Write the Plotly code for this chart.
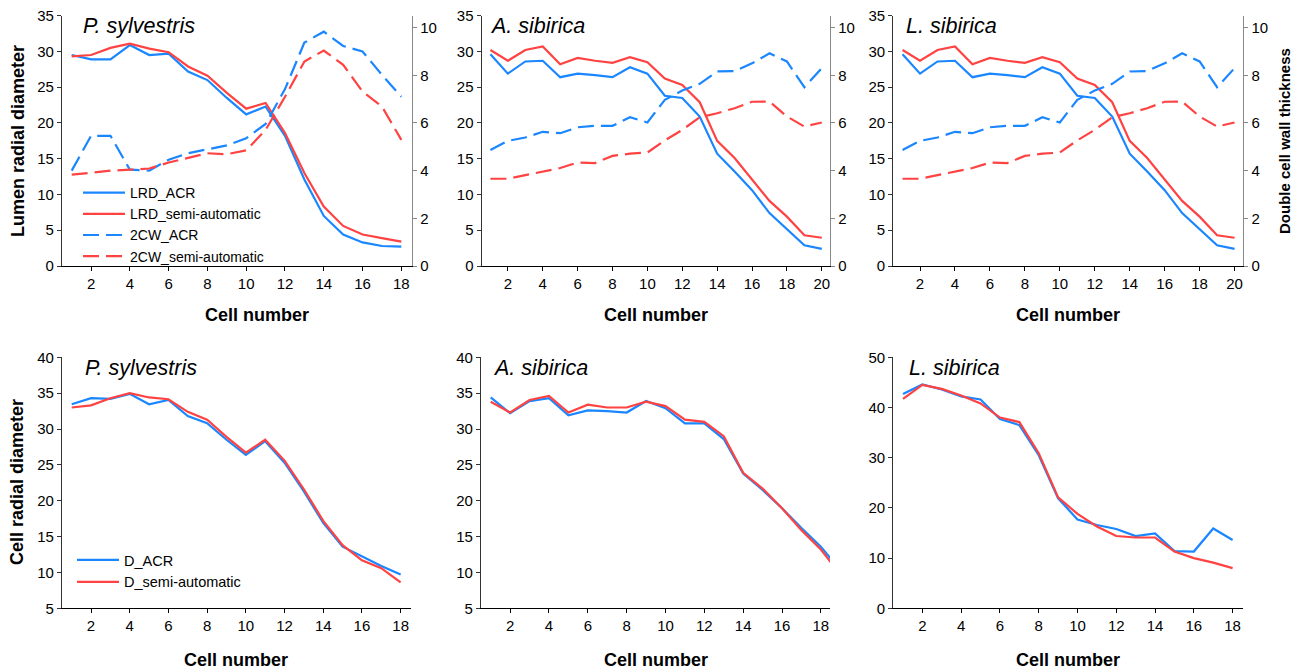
import plotly.graph_objects as go

# ---------------- data ----------------
cells18 = list(range(1, 19))
cells19 = list(range(1, 20))
cells20 = list(range(1, 21))

# P. sylvestris (top): lumen radial diameter & double cell wall thickness
ps_lrd_acr = [29.5, 28.9, 28.9, 30.9, 29.5, 29.7, 27.2, 26.0, 23.5, 21.2, 22.3, 18.2, 12.1, 7.0, 4.4, 3.3, 2.8, 2.7]
ps_lrd_semi = [29.3, 29.5, 30.5, 31.1, 30.4, 29.9, 27.9, 26.6, 24.2, 22.0, 22.8, 18.6, 13.0, 8.3, 5.6, 4.4, 3.9, 3.4]
ps_2cw_acr = [4.0, 5.46, 5.46, 4.04, 4.0, 4.46, 4.73, 4.9, 5.06, 5.36, 5.96, 7.42, 9.37, 9.83, 9.23, 9.0, 8.02, 7.1]
ps_2cw_semi = [3.83, 3.92, 4.0, 4.04, 4.09, 4.34, 4.53, 4.73, 4.69, 4.85, 5.71, 7.1, 8.58, 9.04, 8.44, 7.32, 6.69, 5.29]

# A. sibirica (top)
as_lrd_acr = [29.6, 26.9, 28.6, 28.7, 26.4, 26.9, 26.7, 26.4, 27.8, 26.9, 23.8, 23.5, 20.9, 15.7, 13.2, 10.6, 7.4, 5.1, 2.9, 2.4]
as_lrd_semi = [30.2, 28.7, 30.2, 30.7, 28.2, 29.1, 28.7, 28.4, 29.2, 28.5, 26.2, 25.3, 22.9, 17.5, 15.1, 12.1, 9.1, 6.9, 4.3, 3.95]
as_2cw_acr = [4.87, 5.25, 5.39, 5.63, 5.57, 5.82, 5.88, 5.88, 6.24, 6.02, 6.97, 7.36, 7.64, 8.16, 8.18, 8.5, 8.92, 8.58, 7.5, 8.3]
as_2cw_semi = [3.66, 3.66, 3.81, 3.97, 4.11, 4.34, 4.32, 4.62, 4.71, 4.76, 5.27, 5.71, 6.24, 6.41, 6.62, 6.89, 6.9, 6.27, 5.85, 6.02]

# L. sibirica (top)
ls_lrd_acr = [29.6, 26.9, 28.6, 28.7, 26.4, 26.9, 26.7, 26.4, 27.8, 26.9, 23.8, 23.5, 20.9, 15.7, 13.2, 10.6, 7.4, 5.1, 2.9, 2.4]
ls_lrd_semi = [30.2, 28.7, 30.2, 30.7, 28.2, 29.1, 28.7, 28.4, 29.2, 28.5, 26.2, 25.3, 22.9, 17.5, 15.1, 12.1, 9.1, 6.9, 4.3, 3.95]
ls_2cw_acr = [4.87, 5.25, 5.39, 5.63, 5.57, 5.82, 5.88, 5.88, 6.24, 6.02, 6.97, 7.36, 7.64, 8.16, 8.18, 8.5, 8.92, 8.58, 7.5, 8.3]
ls_2cw_semi = [3.66, 3.66, 3.81, 3.97, 4.11, 4.34, 4.32, 4.62, 4.71, 4.76, 5.27, 5.71, 6.24, 6.41, 6.62, 6.89, 6.9, 6.27, 5.85, 6.02]

# Cell radial diameter (bottom)
ps_d_acr = [33.45, 34.3, 34.2, 34.9, 33.45, 34.06, 31.8, 30.8, 28.5, 26.4, 28.3, 25.3, 21.3, 16.9, 13.6, 12.2, 10.9, 9.7]
ps_d_semi = [33.0, 33.3, 34.3, 35.0, 34.4, 34.15, 32.4, 31.3, 28.9, 26.7, 28.5, 25.6, 21.6, 17.2, 13.8, 11.7, 10.6, 8.6]
as_d_acr = [34.4, 32.2, 33.9, 34.3, 31.9, 32.6, 32.5, 32.3, 33.9, 32.9, 30.8, 30.8, 28.6, 23.8, 21.5, 18.95, 16.2, 13.6, 10.3]
as_d_semi = [33.8, 32.3, 34.05, 34.6, 32.3, 33.4, 33.0, 33.0, 33.8, 33.2, 31.3, 31.0, 29.0, 23.9, 21.7, 18.95, 15.9, 13.2, 9.7]
ls_d_acr = [42.7, 44.6, 43.6, 42.2, 41.6, 37.7, 36.5, 30.5, 21.9, 17.7, 16.6, 15.8, 14.4, 14.9, 11.4, 11.3, 15.9, 13.6]
ls_d_semi = [41.7, 44.5, 43.7, 42.4, 40.8, 38.0, 37.1, 30.9, 22.1, 18.8, 16.3, 14.4, 14.1, 14.1, 11.3, 10.0, 9.1, 8.0]

species = ["P. sylvestris", "A. sibirica", "L. sibirica"]
x_tick_vals = [2, 4, 6, 8, 10, 12, 14, 16, 18, 20]

# ---------------- style ----------------
BLUE = "#1a86ff"
RED = "#ff4242"
FONT = "Liberation Sans, Arial, sans-serif"
DASH = "16px,7px"
W, H = 1300, 672

fig = go.Figure()


def add(x, y, color, dash, xa, ya, name, legend, show):
    fig.add_trace(go.Scatter(
        x=x, y=y, mode="lines", name=name,
        line=dict(color=color, width=2.2, dash=dash),
        xaxis=xa, yaxis=ya, showlegend=show, legend=legend,
    ))


# top row
top = [
    (cells18, ps_lrd_acr, ps_lrd_semi, ps_2cw_acr, ps_2cw_semi),
    (cells20, as_lrd_acr, as_lrd_semi, as_2cw_acr, as_2cw_semi),
    (cells20, ls_lrd_acr, ls_lrd_semi, ls_2cw_acr, ls_2cw_semi),
]
for i, (cx, la, ls, ca, cs) in enumerate(top):
    xa = "x" if i == 0 else f"x{i+1}"
    ya = "y" if i == 0 else f"y{i+1}"
    yr = f"y{i+7}"
    show = i == 0
    add(cx, la, BLUE, "solid", xa, ya, "LRD_ACR", "legend", show)
    add(cx, ls, RED, "solid", xa, ya, "LRD_semi-automatic", "legend", show)
    add(cx, ca, BLUE, DASH, xa, yr, "2CW_ACR", "legend", show)
    add(cx, cs, RED, DASH, xa, yr, "2CW_semi-automatic", "legend", show)

# bottom row
bottom = [
    (cells18, ps_d_acr, ps_d_semi),
    (cells19, as_d_acr, as_d_semi),
    (cells18, ls_d_acr, ls_d_semi),
]
for i, (cx, da, ds) in enumerate(bottom):
    xa = f"x{i+4}"
    ya = f"y{i+4}"
    show = i == 0
    add(cx, da, BLUE, "solid", xa, ya, "D_ACR", "legend2", show)
    add(cx, ds, RED, "solid", xa, ya, "D_semi-automatic", "legend2", show)

tickfont = dict(family=FONT, size=15, color="#000")

xdoms_top = [(62, 412), (481.7, 830), (893.3, 1243.3)]
xdoms_bot = [(62, 410.7), (481, 830), (893.3, 1242.7)]
xranges_top = [[0.5, 18.55], [0.5, 20.47], [0.47, 20.5]]
xranges_bot = [[0.5, 18.52], [0.5, 18.47], [0.5, 18.52]]
ydom_top = [1 - 266 / H, 1 - 15.7 / H]
ydom_bot = [1 - 608.3 / H, 1 - 357.3 / H]
yranges_bot = [[5, 40], [5, 40], [0, 50]]
ydticks_bot = [5, 5, 10]


def xaxis_cfg(dom, rng, anchor):
    return dict(domain=[dom[0] / W, dom[1] / W], range=rng, anchor=anchor,
                showline=True, linecolor="#000", linewidth=1.3,
                ticks="outside", ticklen=4, tickcolor="#000", tickwidth=1,
                tickvals=x_tick_vals, tickfont=tickfont,
                showgrid=False, zeroline=False, automargin=False)


def yaxis_cfg(dom, rng, anchor, dtick, side="left", overlay=None, color="#333"):
    d = dict(domain=dom, range=rng, anchor=anchor, side=side,
             showline=True, linecolor=color, linewidth=1.3,
             ticks="outside", ticklen=4, tickcolor=color, tickwidth=1,
             dtick=dtick, tick0=0, tickfont=tickfont,
             showgrid=False, zeroline=False, automargin=False)
    if overlay:
        d["overlaying"] = overlay
    return d


layout = {}
for i in range(3):
    xk = "xaxis" if i == 0 else f"xaxis{i+1}"
    yk = "yaxis" if i == 0 else f"yaxis{i+1}"
    xa = "x" if i == 0 else f"x{i+1}"
    ya = "y" if i == 0 else f"y{i+1}"
    layout[xk] = xaxis_cfg(xdoms_top[i], xranges_top[i], ya)
    layout[yk] = yaxis_cfg(ydom_top, [0, 35], xa, 5)
    layout[f"yaxis{i+7}"] = yaxis_cfg(ydom_top, [0, 10.5], xa, 2, side="right",
                                      overlay=ya, color="#888")
for i in range(3):
    layout[f"xaxis{i+4}"] = xaxis_cfg(xdoms_bot[i], xranges_bot[i], f"y{i+4}")
    layout[f"yaxis{i+4}"] = yaxis_cfg(ydom_bot, yranges_bot[i], f"x{i+4}", ydticks_bot[i])

fig.update_layout(**layout)

ann = []


def note(text, px, py, size, bold=False, italic=False, angle=0, xanchor="center"):
    t = text
    if bold:
        t = f"<b>{t}</b>"
    if italic:
        t = f"<i>{t}</i>"
    ann.append(dict(text=t, x=px / W, y=1 - py / H, xref="paper", yref="paper",
                    showarrow=False, textangle=angle, xanchor=xanchor, yanchor="middle",
                    font=dict(family=FONT, size=size, color="#000")))


# species labels
for s, (px, py) in zip(species, [(81, 26), (488, 26), (904, 26)]):
    note(s, px, py, 21.5, italic=True, xanchor="left")
for s, (px, py) in zip(species, [(83, 368), (491, 368), (907, 368)]):
    note(s, px, py, 21.5, italic=True, xanchor="left")

# axis titles
for px in [257, 656, 1068]:
    note("Cell number", px, 315, 18, bold=True)
for px in [236, 656, 1068]:
    note("Cell number", px, 660, 18, bold=True)
note("Lumen radial diameter", 18, 141, 18, bold=True, angle=-90)
note("Double cell wall thickness", 1284, 141, 15, bold=True, angle=-90)
note("Cell radial diameter", 17, 482, 18, bold=True, angle=-90)

fig.update_layout(
    annotations=ann,
    width=W, height=H,
    margin=dict(l=0, r=0, t=0, b=0, autoexpand=False),
    paper_bgcolor="white", plot_bgcolor="white",
    font=dict(family=FONT, color="#000"),
    legend=dict(x=78 / W, y=1 - 177 / H, xanchor="left", yanchor="top",
                bgcolor="rgba(0,0,0,0)", font=dict(family=FONT, size=14),
                itemwidth=42, tracegroupgap=0),
    legend2=dict(x=72 / W, y=1 - 544 / H, xanchor="left", yanchor="top",
                 bgcolor="rgba(0,0,0,0)", font=dict(family=FONT, size=14.5),
                 itemwidth=42, tracegroupgap=0),
)

fig.write_html("out.html", config={"displayModeBar": False},
               post_script="document.body.style.margin='0px';document.body.style.overflow='hidden';")
